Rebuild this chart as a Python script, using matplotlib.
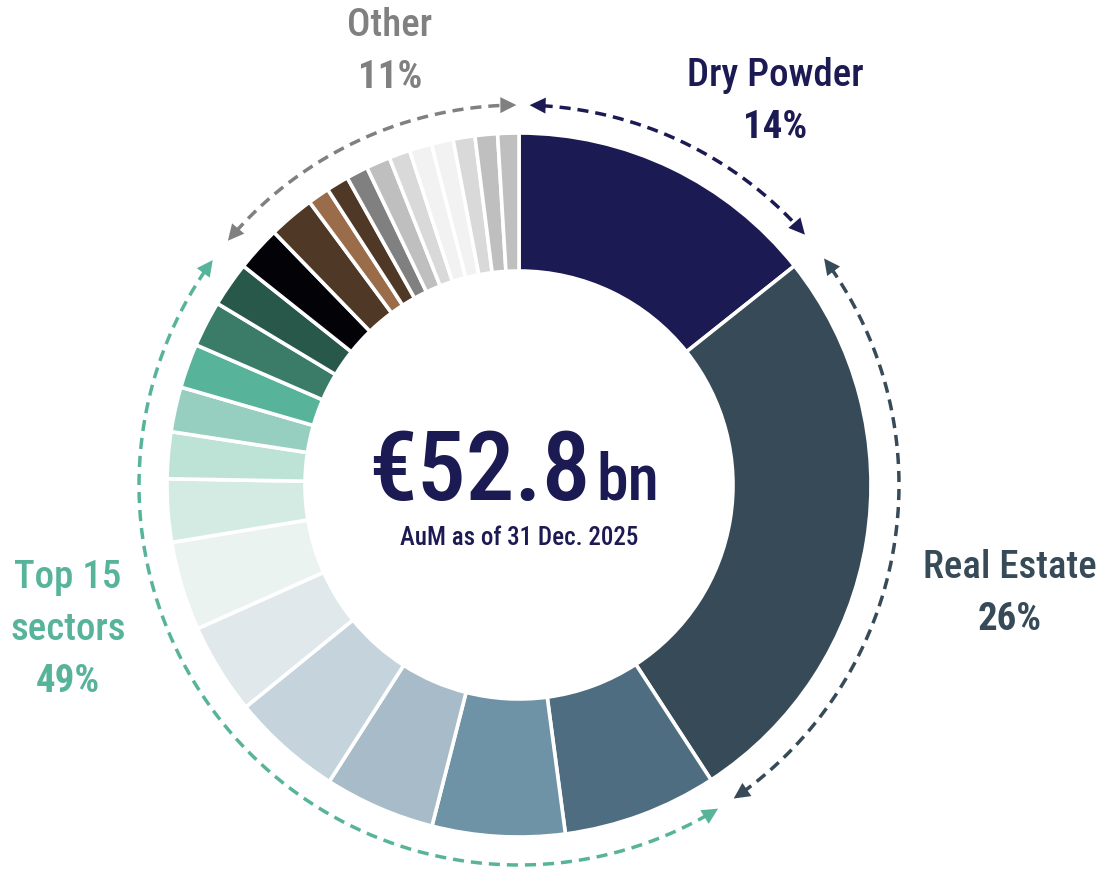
import numpy as np
import matplotlib
matplotlib.use("Agg")
import matplotlib.pyplot as plt
from matplotlib import font_manager as fm
from matplotlib.patches import Polygon

# ---------------- data ----------------
main_labels = ["Dry Powder", "Real Estate"]
main_values = [14.3, 26.5]
main_colors = ["#1c1a52", "#364a58"]

sector_values = [7.08, 6.08, 5.08, 5.08, 4.17, 4.08, 2.89, 2.14, 2.06, 2.03,
                 2.11, 2.06, 2.06, 2.11, 1.00]
sector_colors = ["#4f6d80", "#6e92a6", "#a7bcc8", "#c5d4dc", "#e1e8eb",
                 "#eaf3ef", "#d4ebe3", "#bde3d7", "#96cfbf", "#57b49a",
                 "#3a7c67", "#27584a", "#030207", "#4f3826", "#9a6c4a"]

other_values = [1.03, 1.00, 1.11, 0.97, 1.03, 1.00, 1.00, 1.03, 0.97]
other_colors = ["#4f3826", "#808080", "#bfbfbf", "#d9d9d9", "#f2f2f2",
                "#f2f2f2", "#d9d9d9", "#bfbfbf", "#bfbfbf"]

group_names = ["Dry Powder", "Real Estate", "Top 15\nsectors", "Other"]
group_pcts = ["14%", "26%", "49%", "11%"]
group_colors = ["#1c1a52", "#364a58", "#57b49a", "#808080"]
# arc spans of the bracket arrows (degrees clockwise from 12 o'clock)
group_arcs = [(1.6, 48.8), (53.4, 145.6), (148.4, 306.3), (310.0, 359.6)]

total_label = "€52.8"
total_unit = "bn"
subtitle = "AuM as of 31 Dec. 2025"

# ---------------- fonts ----------------
available = {f.name for f in fm.fontManager.ttflist}
family = "DejaVu Sans"
stretch = "normal"
for cand in ["Liberation Sans Narrow", "Roboto Condensed", "Open Sans Condensed",
             "Noto Sans Condensed"]:
    if cand in available:
        family = cand
        break
else:
    stretch = "condensed"
plt.rcParams["font.family"] = [family, "DejaVu Sans"]

# ---------------- figure ----------------
W, H = 1104, 869
fig = plt.figure(figsize=(W / 100, H / 100), dpi=100)
ax = fig.add_axes([0, 0, 1, 1])

cx, cy = 519, H - 485
r_out, r_in = 352, 214

values = main_values + sector_values + other_values
colors = main_colors + sector_colors + other_colors
ax.pie(values, colors=colors, startangle=90, counterclock=False,
       center=(cx, cy), radius=r_out, frame=True,
       wedgeprops=dict(width=r_out - r_in, edgecolor="white", linewidth=2.6))
ax.set_xlim(0, W)
ax.set_ylim(0, H)
ax.set_aspect("equal")
ax.axis("off")


def pt(theta, r):
    t = np.deg2rad(theta)
    return cx + r * np.sin(t), cy + r * np.cos(t)


def head(theta, r, direction, color):
    # direction +1: arrow points clockwise, -1: counter-clockwise
    tip = np.array(pt(theta, r))
    t = np.deg2rad(theta)
    tang = np.array([np.cos(t), -np.sin(t)]) * direction
    norm = np.array([-tang[1], tang[0]])
    L, Wd = 16, 8
    base = tip - tang * L
    poly = [tip, base + norm * Wd, base - norm * Wd]
    ax.add_patch(Polygon(poly, closed=True, facecolor=color, edgecolor="none"))


r_arc = 380
for (a0, a1), col in zip(group_arcs, group_colors):
    dl = np.rad2deg(12 / r_arc)
    th = np.linspace(a0 + dl, a1 - dl, 200)
    xs, ys = pt(th, r_arc)
    ax.plot(xs, ys, color=col, lw=2.5, linestyle=(0, (3.2, 2.0)),
            solid_capstyle="butt", dash_capstyle="butt")
    head(a0, r_arc, -1, col)
    head(a1, r_arc, +1, col)

# centre text
ax.text(cx + 72, H - 500, total_label, ha="right", va="baseline",
        fontsize=70, color="#1c1a52", fontweight="medium", fontstretch=stretch)
ax.text(cx + 77, H - 500, total_unit, ha="left", va="baseline",
        fontsize=46, color="#1c1a52", fontweight="medium", fontstretch=stretch)
ax.text(cx, H - 538, subtitle, ha="center", va="center",
        fontsize=18, color="#1c1a52", fontweight="medium", fontstretch=stretch)

# group labels
label_pos = [(775, 75), (1010, 568), (68, 578), (390, 25)]
for name, pct, col, (x, y) in zip(group_names, group_pcts, group_colors, label_pos):
    lines = name.split("\n")
    for i, ln in enumerate(lines):
        ax.text(x, H - (y + 52 * i), ln, ha="center", va="center", fontsize=28,
                color=col, fontweight="medium", fontstretch=stretch)
    ax.text(x, H - (y + 52 * len(lines)), pct, ha="center", va="center",
            fontsize=28, color=col, fontweight="bold", fontstretch=stretch)

fig.savefig("out.png", dpi=100)
